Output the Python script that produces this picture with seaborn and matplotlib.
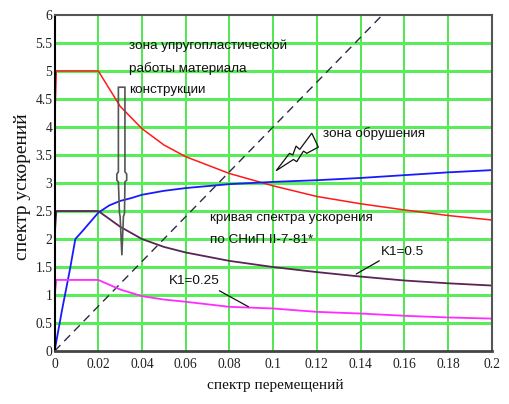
import numpy as np
import pandas as pd
import seaborn as sns
import matplotlib
matplotlib.use("Agg")
import matplotlib.pyplot as plt
from matplotlib import font_manager
from matplotlib.patches import Polygon

# --- data -------------------------------------------------------------
# displacement grid shared by the three SNiP spectrum curves
disp = [0.0, 0.0002, 0.0008, 0.02, 0.03, 0.04, 0.05, 0.06, 0.08,
        0.10, 0.12, 0.14, 0.16, 0.18, 0.20]
acc_k1_full = [2.4, 4.25, 5.0, 5.0, 4.37, 3.97, 3.68, 3.47, 3.17,
               2.95, 2.76, 2.63, 2.52, 2.42, 2.34]
acc_k1_05 = [1.7, 2.15, 2.5, 2.5, 2.22, 2.0, 1.86, 1.76, 1.61,
             1.50, 1.41, 1.33, 1.26, 1.21, 1.17]
acc_k1_025 = [0.55, 1.05, 1.27, 1.27, 1.10, 0.98, 0.92, 0.88, 0.79,
              0.76, 0.70, 0.67, 0.63, 0.60, 0.58]

# capacity (pushover) curve
disp_cap = [0.0, 0.0035, 0.007, 0.0095, 0.0125, 0.02, 0.025, 0.03, 0.035,
            0.04, 0.05, 0.06, 0.08, 0.10, 0.12, 0.14, 0.16, 0.18, 0.20]
acc_cap = [0.0, 0.75, 1.45, 2.0, 2.13, 2.47, 2.6, 2.68, 2.73,
           2.79, 2.86, 2.91, 2.98, 3.02, 3.05, 3.09, 3.14, 3.19, 3.23]

# collapse-zone boundary
disp_lim = [0.0, 0.15]
acc_lim = [0.0, 6.0]

x_ticks = [0, 0.02, 0.04, 0.06, 0.08, 0.1, 0.12, 0.14, 0.16, 0.18, 0.2]
x_tick_labels = ["0", "0.02", "0.04", "0.06", "0.08", "0.1", "0.12",
                 "0.14", "0.16", "0.18", "0.2"]
y_ticks = [0, 0.5, 1, 1.5, 2, 2.5, 3, 3.5, 4, 4.5, 5, 5.5, 6]
y_tick_labels = ["0", "0.5", "1", "1.5", "2", "2.5", "3", "3.5", "4",
                 "4.5", "5", "5.5", "6"]


def pick_font(names):
    for n in names:
        try:
            font_manager.findfont(n, fallback_to_default=False)
            return n
        except Exception:
            continue
    return "DejaVu Sans"


sns.set_theme(style="white")
sans = pick_font(["Liberation Sans Narrow", "Liberation Sans", "Open Sans"])
serif = pick_font(["Liberation Serif", "DejaVu Serif"])
plt.rcParams["font.family"] = [sans, "DejaVu Sans"]
narrow = sans == "Liberation Sans Narrow"
note_size = 11 if narrow else 9.7

fig = plt.figure(figsize=(5.10, 4.04), dpi=100)
ax = fig.add_axes([0.107, 0.131, 0.857, 0.832])

# grid: thin vertical lines, broader pale horizontal lines
for xv in x_ticks[1:-1]:
    ax.axvline(xv, color="#1fe01f", lw=1.1, zorder=0)
for yv in y_ticks[1:-1]:
    ax.axhline(yv, color="#5aec5a", lw=2.2, zorder=0)

sns.lineplot(x=disp_lim, y=acc_lim, ax=ax, color="#2b2b44", lw=1.0,
             estimator=None, sort=False, zorder=2,
             linestyle=(0, (6, 4)))
sns.lineplot(x=disp, y=acc_k1_full, ax=ax, color="#ff1a1a", lw=1.1,
             estimator=None, sort=False, zorder=3)
sns.lineplot(x=disp_cap, y=acc_cap, ax=ax, color="#1a1aff", lw=1.3,
             estimator=None, sort=False, zorder=3)
sns.lineplot(x=disp, y=acc_k1_025, ax=ax, color="#ff2bff", lw=1.3,
             estimator=None, sort=False, zorder=3)
sns.lineplot(x=disp, y=acc_k1_05, ax=ax, color="#5a2456", lw=1.3,
             estimator=None, sort=False, zorder=4)

ax.set_xlim(0, 0.2)
ax.set_ylim(0, 6)
ax.set_xticks(x_ticks)
ax.set_xticklabels(x_tick_labels)
ax.set_yticks(y_ticks)
ax.set_yticklabels(y_tick_labels)
ax.tick_params(axis="both", length=0, labelsize=9.8, colors="#222222")
ax.tick_params(axis="x", pad=5)
ax.tick_params(axis="y", pad=1.5)
for lab in ax.get_xticklabels() + ax.get_yticklabels():
    lab.set_fontfamily(serif)

for side in ["top", "right"]:
    ax.spines[side].set_color("#555555")
    ax.spines[side].set_linewidth(1.5)
ax.spines["bottom"].set_color("#444444")
ax.spines["bottom"].set_linewidth(2.0)
ax.spines["left"].set_color("#000000")
ax.spines["left"].set_linewidth(1.5)
for s in ax.spines.values():
    s.set_zorder(5)

ax.set_xlabel("спектр перемещений", fontfamily=serif, fontsize=11,
              color="#111111", va="center")
ax.set_ylabel("спектр ускорений", fontfamily=serif, fontsize=14,
              color="#111111", va="center")
ax.xaxis.set_label_coords(0.505, -0.101)
ax.yaxis.set_label_coords(-0.074, 0.49)

# annotations
txt = dict(fontsize=note_size, color="#111111", ha="left", va="center",
           zorder=6)
ax.text(0.0341, 5.45, "зона упругопластической", **txt)
ax.text(0.0341, 5.05, "работы материала", **txt)
ax.text(0.0341, 4.66, "конструкции", **txt)
ax.text(0.1228, 3.875, "зона обрушения", **txt)
ax.text(0.0712, 2.375, "кривая спектра ускорения", **txt)
ax.text(0.0712, 1.98, "по СНиП II-7-81*", **txt)
ax.text(0.1493, 1.773, "K1=0.5", **txt)
ax.text(0.0525, 1.255, "K1=0.25", **txt)

ax.plot([0.1486, 0.1380], [1.612, 1.375], color="#111111", lw=0.9, zorder=6)
ax.plot([0.0754, 0.0887], [1.077, 0.791], color="#111111", lw=0.9, zorder=6)

# hollow pointer from the elasto-plastic zone label
arrow_pts = [(0.0292, 4.71), (0.0322, 4.71), (0.0322, 3.20), (0.0330, 3.16),
             (0.0330, 3.05), (0.0322, 3.02), (0.0320, 2.46), (0.0315, 2.40),
             (0.0308, 1.71), (0.0300, 2.40), (0.0297, 2.46), (0.0292, 3.02),
             (0.0285, 3.05), (0.0285, 3.16), (0.0292, 3.20)]
ax.add_patch(Polygon(arrow_pts, closed=True, fill=False,
                     edgecolor="#555555", lw=1.2, zorder=6))

# lightning-shaped pointer towards the collapse zone
bolt_pts = [(0.1014, 3.22), (0.1075, 3.53), (0.1090, 3.50), (0.1105, 3.66),
            (0.1122, 3.60), (0.1177, 3.89), (0.1207, 3.64), (0.1154, 3.53),
            (0.1139, 3.57), (0.1108, 3.38), (0.1093, 3.42)]
ax.add_patch(Polygon(bolt_pts, closed=True, fill=False,
                     edgecolor="#111111", lw=0.9, zorder=6))

fig.savefig("out.png", dpi=100, facecolor="white")
